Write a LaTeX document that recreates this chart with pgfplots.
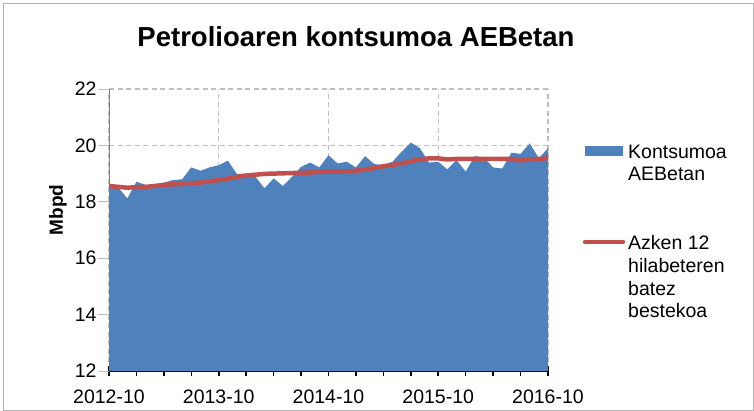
\documentclass[border=0pt]{standalone}
\usepackage{pgfplots}
\pgfplotsset{compat=1.18}
\usepackage{fontspec}
\setmainfont{Liberation Sans}
\definecolor{areablue}{HTML}{4F81BD}
\definecolor{avgred}{HTML}{C0504D}
\definecolor{gridgray}{HTML}{BFBFBF}
\begin{document}
\begin{tikzpicture}
\useasboundingbox (0,0) rectangle (754bp,411bp);
\draw[gray!60, line width=0.8bp] (3.5bp,1bp) rectangle (753bp,407.5bp);
\begin{axis}[
  at={(109bp,40bp)}, anchor=south west,
  scale only axis, width=439bp, height=282bp,
  xmin=0, xmax=48, ymin=12, ymax=22,
  axis x line*=bottom, axis y line*=left,
  x axis line style={black, line width=1.6bp},
  y axis line style={gray, line width=1bp},
  xtick={0,12,24,36,48},
  xticklabels={2012-10,2013-10,2014-10,2015-10,2016-10},
  minor xtick={3,6,9,15,18,21,27,30,33,39,42,45},
  ytick={12,14,16,18,20,22},
  xtick align=center,
  ytick align=outside,
  major tick length=11bp, minor tick length=5bp,
  x tick style={black, line width=1.6bp},
  minor x tick style={yshift=-2.5bp},
  y tick style={gridgray, line width=0.8bp},
  grid=major,
  major grid style={dash pattern=on 5bp off 3.5bp, gridgray, line width=1.2bp},
  /pgf/number format/assume math mode=true,
  ticklabel style={font=\fontsize{19.5bp}{22bp}\selectfont},
  xticklabel style={yshift=-10bp},
  yticklabel style={xshift=2bp},
]
\addplot[fill=areablue, draw=none] coordinates {
(0,18.66)(1,18.51)(2,18.12)(3,18.71)(4,18.60)(5,18.58)(6,18.68)(7,18.77)
(8,18.80)(9,19.22)(10,19.10)(11,19.22)(12,19.30)(13,19.46)(14,18.98)(15,19.00)
(16,18.89)(17,18.48)(18,18.83)(19,18.56)(20,18.88)(21,19.24)(22,19.39)(23,19.22)
(24,19.65)(25,19.36)(26,19.42)(27,19.22)(28,19.62)(29,19.34)(30,19.30)(31,19.42)
(32,19.78)(33,20.10)(34,19.90)(35,19.39)(36,19.42)(37,19.15)(38,19.48)(39,19.07)
(40,19.62)(41,19.57)(42,19.22)(43,19.18)(44,19.74)(45,19.70)(46,20.07)(47,19.55)
(48,19.90)} \closedcycle;
\addplot[avgred, line width=4.5bp, line join=round] coordinates {
(0,18.56)(1,18.53)(2,18.50)(3,18.52)(4,18.53)(5,18.56)(6,18.60)(7,18.62)
(8,18.63)(9,18.66)(10,18.68)(11,18.73)(12,18.77)(13,18.82)(14,18.89)(15,18.93)
(16,18.96)(17,18.99)(18,19.00)(19,19.01)(20,19.02)(21,19.03)(22,19.04)(23,19.06)
(24,19.07)(25,19.07)(26,19.08)(27,19.10)(28,19.14)(29,19.20)(30,19.26)(31,19.31)
(32,19.36)(33,19.44)(34,19.50)(35,19.54)(36,19.54)(37,19.50)(38,19.52)(39,19.52)
(40,19.52)(41,19.52)(42,19.52)(43,19.52)(44,19.52)(45,19.47)(46,19.50)(47,19.52)
(48,19.55)};
\end{axis}
\node[anchor=base, font=\fontsize{27.5bp}{32bp}\selectfont\bfseries] at (356bp,364bp) {Petrolioaren kontsumoa AEBetan};
\node[rotate=90, font=\fontsize{19bp}{22bp}\selectfont\bfseries] at (58bp,201bp) {Mbpd};
% legend
\fill[areablue] (585bp,255bp) rectangle (623bp,265bp);
\node[anchor=base west, inner sep=0pt, font=\fontsize{19.5bp}{22bp}\selectfont] at (628bp,252bp) {Kontsumoa};
\node[anchor=base west, inner sep=0pt, font=\fontsize{19.5bp}{22bp}\selectfont] at (628bp,230bp) {AEBetan};
\draw[avgred, line width=4.5bp, line cap=round] (585bp,169bp) -- (623bp,169bp);
\node[anchor=base west, inner sep=0pt, font=\fontsize{19.5bp}{22bp}\selectfont] at (628bp,161bp) {Azken 12};
\node[anchor=base west, inner sep=0pt, font=\fontsize{19.5bp}{22bp}\selectfont] at (628bp,138bp) {hilabeteren};
\node[anchor=base west, inner sep=0pt, font=\fontsize{19.5bp}{22bp}\selectfont] at (628bp,115bp) {batez};
\node[anchor=base west, inner sep=0pt, font=\fontsize{19.5bp}{22bp}\selectfont] at (628bp,93bp) {bestekoa};
\end{tikzpicture}
\end{document}
